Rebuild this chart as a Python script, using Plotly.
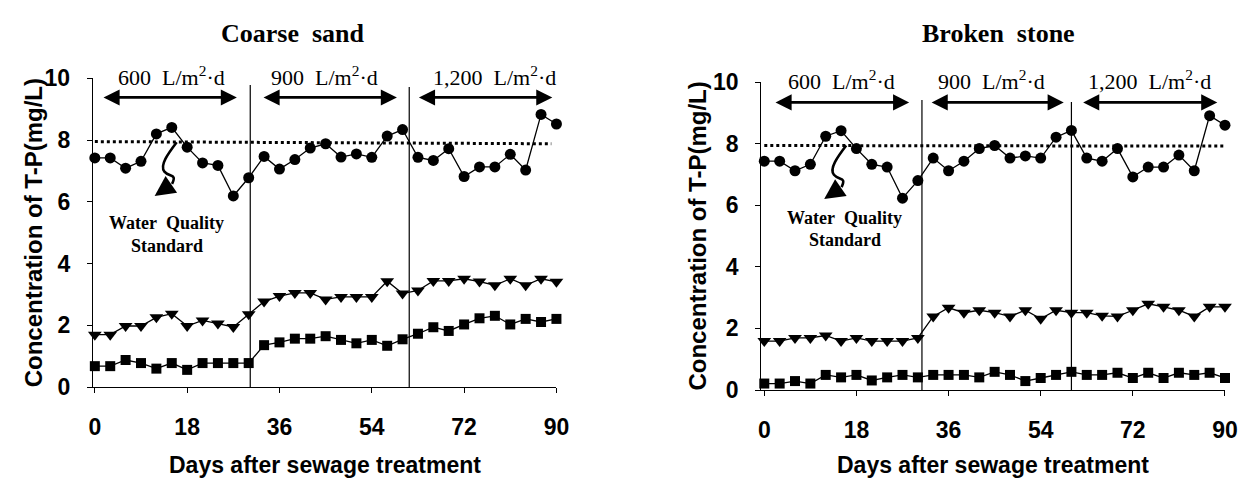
import plotly.graph_objects as go

# ---------------- data ----------------
days = list(range(0, 91, 3))

sand_influent = [7.42, 7.42, 7.09, 7.31, 8.20, 8.41, 7.77, 7.26, 7.18, 6.19, 6.78,
                 7.47, 7.06, 7.37, 7.74, 7.88, 7.45, 7.55, 7.44, 8.13, 8.34,
                 7.44, 7.34, 7.72, 6.82, 7.13, 7.13, 7.54, 7.03, 8.83, 8.52]
sand_tri = [1.70, 1.70, 1.98, 1.98, 2.26, 2.38, 1.98, 2.16, 2.06, 1.95, 2.36,
            2.77, 2.95, 3.05, 3.05, 2.84, 2.92, 2.92, 2.92, 3.43, 3.03,
            3.13, 3.44, 3.44, 3.51, 3.42, 3.30, 3.51, 3.30, 3.51, 3.41]
sand_sq = [0.68, 0.68, 0.88, 0.78, 0.60, 0.78, 0.56, 0.78, 0.78, 0.78, 0.78,
           1.36, 1.45, 1.57, 1.57, 1.65, 1.53, 1.42, 1.53, 1.34, 1.55,
           1.73, 1.94, 1.82, 2.03, 2.23, 2.31, 2.03, 2.21, 2.11, 2.21]

stone_influent = [7.43, 7.43, 7.12, 7.33, 8.24, 8.42, 7.84, 7.33, 7.24, 6.23, 6.80,
                  7.53, 7.12, 7.43, 7.84, 7.94, 7.53, 7.60, 7.53, 8.21, 8.43,
                  7.53, 7.43, 7.84, 6.92, 7.24, 7.24, 7.63, 7.12, 8.91, 8.60]
stone_tri = [1.59, 1.59, 1.69, 1.69, 1.77, 1.59, 1.69, 1.59, 1.59, 1.59, 1.69,
             2.39, 2.67, 2.51, 2.59, 2.51, 2.39, 2.59, 2.31, 2.59, 2.51,
             2.51, 2.41, 2.39, 2.59, 2.80, 2.70, 2.59, 2.39, 2.70, 2.70]
stone_sq = [0.21, 0.21, 0.29, 0.21, 0.49, 0.41, 0.49, 0.31, 0.41, 0.49, 0.41,
            0.49, 0.49, 0.49, 0.41, 0.59, 0.49, 0.29, 0.39, 0.49, 0.59,
            0.49, 0.49, 0.56, 0.39, 0.56, 0.39, 0.56, 0.49, 0.56, 0.39]

panel_titles = ["Coarse\u00a0\u00a0sand", "Broken\u00a0\u00a0stone"]
load_labels = ["600\u00a0\u00a0L/m<sup>2</sup>\u00b7d", "900\u00a0\u00a0L/m<sup>2</sup>\u00b7d",
               "1,200\u00a0\u00a0L/m<sup>2</sup>\u00b7d"]
x_ticks = [0, 18, 36, 54, 72, 90]
y_ticks = [0, 2, 4, 6, 8, 10]

W, H = 1258, 482
SANS = "Liberation Sans, Arial, sans-serif"
SERIF = "Liberation Serif, Times New Roman, serif"

fig = go.Figure()

panels = [
    dict(xa="x", ya="y", inf=sand_influent, tri=sand_tri, sq=sand_sq,
         xdom=[90 / W, 560 / W], ydom=[1 - 395.5 / H, 1 - 69 / H], xr=[-0.4, 90],
         vlines=[(30.3, 9.78), (61.3, 9.72)], std=(7.95, 7.88, 89),
         arrows=[(1.4, 27.7), (32.6, 58.9), (62.9, 89.2)], arr_y=9.38,
         lab_x=[15, 44.8, 78], lab_shift=2,
         wq=(14.0, 5.32, 4.56), squig=(15.96, 7.93), title_px=(293, 22), ytitle_px=30),
    dict(xa="x2", ya="y2", inf=stone_influent, tri=stone_tri, sq=stone_sq,
         xdom=[767.6 / W, 1237.7 / W], ydom=[1 - 398.5 / H, 1 - 73 / H], xr=[-0.6, 90],
         vlines=[(30.8, 9.42), (60.0, 9.35)], std=(7.94, 7.92, 90),
         arrows=[(1.9, 28.3), (32.4, 58.5), (62.0, 88.5)], arr_y=9.34,
         lab_x=[15, 44.3, 75.3], lab_shift=2,
         wq=(15.7, 5.59, 4.87), squig=(16.0, 7.94), title_px=(1008, 22), ytitle_px=703),
]

line_style = dict(color="black", width=1.3)
for i, p in enumerate(panels):
    for ys, sym, size in [(p["inf"], "circle", 11), (p["tri"], "triangle-down", 12), (p["sq"], "square", 10)]:
        fig.add_trace(go.Scatter(x=days, y=ys, mode="lines+markers", xaxis=p["xa"], yaxis=p["ya"],
                                 line=line_style, marker=dict(symbol=sym, size=size, color="black"),
                                 showlegend=False, cliponaxis=False))
    xref, yref = p["xa"], p["ya"]
    # vertical separators
    for vx, vtop in p["vlines"]:
        fig.add_shape(type="line", xref=xref, yref=yref, x0=vx, x1=vx, y0=0, y1=vtop,
                      line=dict(color="black", width=1.2))
    # water quality standard dotted line
    s0, s1, send = p["std"]
    fig.add_shape(type="line", xref=xref, yref=yref, x0=0, x1=send, y0=s0, y1=s1,
                  line=dict(color="black", width=3, dash="dot"))
    # double arrows + loading labels
    for (a0, a1), lx, lab in zip(p["arrows"], p["lab_x"], load_labels):
        fig.add_annotation(xref=xref, yref=yref, axref=xref, ayref=yref,
                           x=a1, y=p["arr_y"], ax=a0, ay=p["arr_y"], text="",
                           showarrow=True, arrowhead=2, arrowside="end+start",
                           arrowsize=1.15, arrowwidth=2.8, arrowcolor="black",
                           startarrowhead=2, startarrowsize=1.15)
        fig.add_annotation(xref=xref, yref=yref, x=lx, y=10, yshift=p["lab_shift"], text=lab,
                           showarrow=False, font=dict(family=SERIF, size=22, color="black"),
                           yanchor="middle")
    # squiggly arrow
    sx, sy = p["squig"]
    path = (f"M {sx},{sy} C {sx-1.6},{sy-0.35} {sx-3.4},{sy-0.75} {sx-2.4},{sy-0.95} "
            f"S {sx+0.1},{sy-1.0} {sx-0.9},{sy-1.35}")
    fig.add_shape(type="path", xref=xref, yref=yref, path=path,
                  line=dict(color="black", width=2.6))
    fig.add_annotation(xref=xref, yref=yref, axref=xref, ayref=yref,
                       x=sx - 4.3, y=sy - 1.74, ax=sx - 0.9, ay=sy - 1.35, text="",
                       showarrow=True, arrowhead=2, arrowsize=1.45, arrowwidth=2.8, arrowcolor="black")
    wx, wy1, wy2 = p["wq"]
    fig.add_annotation(xref=xref, yref=yref, x=wx, y=wy1, text="<b>Water\u00a0\u00a0Quality</b>",
                       showarrow=False, font=dict(family=SERIF, size=18, color="black"))
    fig.add_annotation(xref=xref, yref=yref, x=wx, y=wy2, text="<b>Standard</b>",
                       showarrow=False, font=dict(family=SERIF, size=18, color="black"))
    # panel title
    tx, ty = p["title_px"]
    fig.add_annotation(xref="paper", yref="paper", x=tx / W, y=1 - ty / H, text=f"<b>{panel_titles[i]}</b>",
                       showarrow=False, font=dict(family=SERIF, size=26, color="black"),
                       xanchor="center", yanchor="middle")
    # axis titles
    xmid = (p["xdom"][0] + p["xdom"][1]) / 2
    fig.add_annotation(xref="paper", yref="paper", x=xmid, y=1 - 478 / H,
                       text="<b>Days after sewage treatment</b>", showarrow=False,
                       font=dict(family=SANS, size=23, color="black"), xanchor="center", yanchor="middle")
    ymid = (p["ydom"][0] + p["ydom"][1]) / 2
    fig.add_annotation(xref="paper", yref="paper", x=p["ytitle_px"] / W, y=ymid,
                       text="<b>Concentration of T-P(mg/L)</b>", showarrow=False, textangle=-90,
                       font=dict(family=SANS, size=24, color="black"), xanchor="center", yanchor="middle")

axis_common = dict(showgrid=False, zeroline=False, showline=True, linecolor="black", linewidth=1,
                   ticks="outside", ticklen=5, tickcolor="black", tickwidth=1,
                   tickfont=dict(family=SANS, size=23, color="black", weight="bold"))

layout = dict(width=W, height=H, autosize=False, margin=dict(l=0, r=0, t=0, b=0),
              plot_bgcolor="white", paper_bgcolor="white", showlegend=False)
for i, p in enumerate(panels):
    sfx = "" if i == 0 else "2"
    layout[f"xaxis{sfx}"] = dict(axis_common, domain=p["xdom"], range=p["xr"], tickvals=x_ticks,
                                 anchor=p["ya"], ticklabelstandoff=14)
    layout[f"yaxis{sfx}"] = dict(axis_common, domain=p["ydom"], range=[0, 10], tickvals=y_ticks,
                                 anchor=p["xa"], ticklabelstandoff=12)
fig.update_layout(**layout)

fig.write_html("out.html")
